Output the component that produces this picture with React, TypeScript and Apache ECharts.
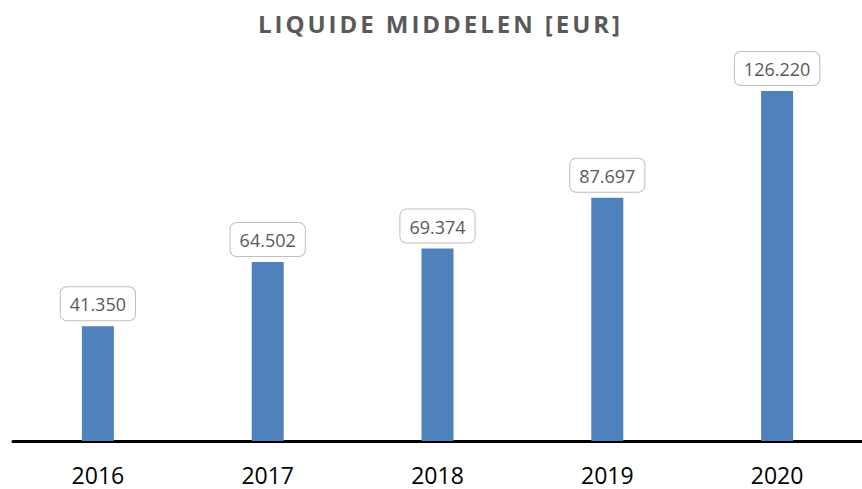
import React, { useEffect, useRef } from "react";
import * as echarts from "echarts";

const TITLE = "LIQUIDE MIDDELEN [EUR]";
const years = ["2016", "2017", "2018", "2019", "2020"];
const values = [41350, 64502, 69374, 87697, 126220];

function fmt(v: number): string {
  return String(v).replace(/\B(?=(\d{3})+(?!\d))/g, ".");
}

export default function App() {
  const ref = useRef<HTMLDivElement>(null);
  useEffect(() => {
    if (!ref.current) return;
    const chart = echarts.init(ref.current, null, { renderer: "svg" });
    chart.setOption({
      animation: false,
      backgroundColor: "#ffffff",
      graphic: [
        {
          type: "text",
          left: "center",
          top: 8,
          style: {
            text: TITLE,
            fontFamily: "Open Sans",
            fontWeight: "bold",
            fontSize: 24,
            fill: "#595959",
          },
        },
      ],
      grid: { left: 13, right: -5, top: 25, bottom: 48 },
      xAxis: {
        type: "category",
        data: years,
        axisLine: { show: true, lineStyle: { color: "#000000", width: 3 } },
        axisTick: { show: false },
        axisLabel: {
          color: "#000000",
          fontFamily: "Open Sans",
          fontSize: 23,
          margin: 22,
        },
      },
      yAxis: {
        type: "value",
        min: 0,
        max: 150000,
        show: false,
        splitLine: { show: false },
      },
      series: [
        {
          type: "bar",
          data: values,
          barWidth: 32,
          itemStyle: { color: "#4f81bd" },
          label: {
            show: true,
            position: "top",
            distance: 6,
            formatter: (p: any) => fmt(p.value),
            color: "#595959",
            fontFamily: "Open Sans",
            fontSize: 18,
            backgroundColor: "#ffffff",
            borderColor: "#bfbfbf",
            borderWidth: 1,
            borderRadius: 6,
            padding: [8, 9, 7, 9],
          },
        },
      ],
    });
    // widen the title's letter spacing so it spans the same width as the reference
    const texts = ref.current.querySelectorAll("text");
    texts.forEach((t) => {
      if (t.textContent === TITLE) {
        const el = t as SVGTextElement;
        el.removeAttribute("transform");
        el.setAttribute("text-anchor", "start");
        el.setAttribute("letter-spacing", "0");
        const w0 = el.getComputedTextLength();
        const target = 362;
        const spacing = Math.max(0, (target - w0) / (TITLE.length - 1));
        el.setAttribute("letter-spacing", String(spacing));
        el.setAttribute("x", "258");
        el.setAttribute("dominant-baseline", "central");
        el.setAttribute("y", "23");
      }
    });
    return () => chart.dispose();
  }, []);
  return <div ref={ref} style={{ width: 862, height: 489, position: "absolute", left: 0, top: 0 }} />;
}
